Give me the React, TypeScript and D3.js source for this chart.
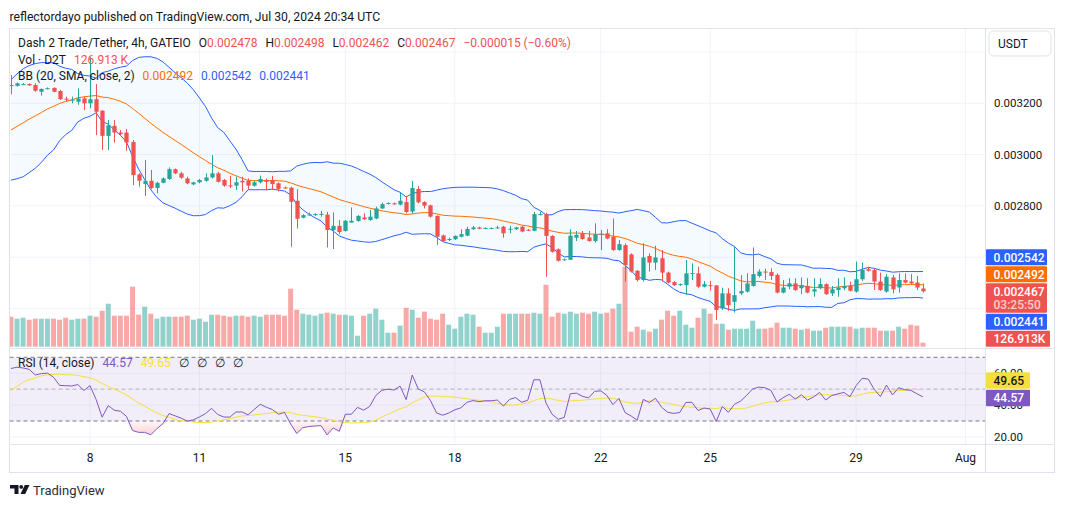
import * as d3 from 'd3';

// prices are USDT x 1e6 (3200 -> 0.003200), one 4h candle each, first candle Jul 5 20:00 UTC
const firstCandle = Date.UTC(2024, 6, 5, 20);

const opens = [
  3271, 3268, 3274, 3275, 3271, 3245, 3257, 3260, 3248, 3218,
  3212, 3206, 3219, 3200, 3216, 3171, 3073, 3112, 3086, 3086,
  3049, 2923, 2885, 2898, 2870, 2890, 2905, 2943, 2927, 2907,
  2884, 2892, 2898, 2911, 2927, 2901, 2880, 2879, 2898, 2898,
  2879, 2892, 2901, 2901, 2888, 2872, 2871, 2820, 2754, 2765,
  2765, 2766, 2766, 2706, 2722, 2702, 2735, 2741, 2755, 2745,
  2751, 2790, 2809, 2810, 2805, 2815, 2778, 2866, 2815, 2802,
  2761, 2685, 2668, 2670, 2680, 2684, 2709, 2716, 2713, 2713,
  2714, 2719, 2709, 2709, 2719, 2707, 2703, 2766, 2768, 2683,
  2631, 2589, 2590, 2676, 2693, 2677, 2663, 2689, 2693, 2680,
  2628, 2647, 2611, 2547, 2511, 2605, 2579, 2596, 2540, 2503,
  2491, 2491, 2536, 2537, 2485, 2491, 2490, 2400, 2459, 2426,
  2459, 2466, 2488, 2527, 2544, 2542, 2531, 2462, 2485, 2498,
  2479, 2488, 2466, 2479, 2495, 2459, 2472, 2479, 2488, 2466,
  2514, 2553, 2550, 2505, 2466, 2521, 2482, 2511, 2505, 2501, 2478,
];
const highs = [
  3310, 3281, 3279, 3278, 3278, 3258, 3262, 3262, 3252, 3226,
  3226, 3258, 3226, 3380, 3275, 3174, 3135, 3135, 3096, 3100,
  3057, 2927, 2979, 2940, 2894, 2911, 2950, 2946, 2933, 2914,
  2894, 2905, 2927, 2998, 2933, 2905, 2917, 2914, 2914, 2907,
  2898, 2918, 2907, 2917, 2892, 2875, 2875, 2865, 2768, 2774,
  2771, 2781, 2777, 2775, 2745, 2745, 2794, 2764, 2771, 2784,
  2797, 2813, 2814, 2813, 2852, 2839, 2897, 2878, 2818, 2805,
  2763, 2688, 2676, 2685, 2709, 2719, 2722, 2719, 2716, 2716,
  2722, 2722, 2722, 2719, 2722, 2710, 2777, 2777, 2774, 2686,
  2634, 2595, 2709, 2702, 2702, 2702, 2732, 2706, 2709, 2751,
  2667, 2654, 2615, 2550, 2654, 2615, 2645, 2628, 2544, 2507,
  2498, 2589, 2576, 2563, 2507, 2507, 2491, 2481, 2479, 2641,
  2530, 2537, 2638, 2553, 2555, 2557, 2537, 2511, 2518, 2518,
  2521, 2518, 2518, 2518, 2498, 2488, 2518, 2521, 2505, 2583,
  2579, 2563, 2557, 2540, 2534, 2531, 2537, 2537, 2534, 2527, 2498,
];
const lows = [
  3235, 3265, 3271, 3268, 3245, 3230, 3254, 3243, 3213, 3206,
  3200, 3194, 3174, 3180, 3076, 3018, 3018, 3047, 3076, 3015,
  2881, 2875, 2839, 2865, 2849, 2888, 2901, 2924, 2906, 2884,
  2881, 2888, 2894, 2907, 2891, 2875, 2870, 2862, 2856, 2865,
  2875, 2888, 2862, 2862, 2856, 2866, 2641, 2712, 2752, 2761,
  2761, 2758, 2638, 2632, 2690, 2700, 2735, 2738, 2745, 2742,
  2748, 2788, 2806, 2804, 2802, 2771, 2771, 2810, 2790, 2755,
  2648, 2660, 2663, 2667, 2677, 2682, 2707, 2709, 2711, 2711,
  2711, 2676, 2693, 2706, 2697, 2702, 2701, 2763, 2524, 2618,
  2583, 2586, 2589, 2663, 2668, 2660, 2657, 2628, 2670, 2625,
  2625, 2505, 2540, 2505, 2505, 2544, 2550, 2505, 2498, 2488,
  2488, 2453, 2511, 2479, 2482, 2469, 2355, 2394, 2391, 2384,
  2453, 2462, 2485, 2521, 2511, 2511, 2459, 2459, 2475, 2469,
  2456, 2459, 2446, 2475, 2453, 2449, 2446, 2472, 2466, 2462,
  2508, 2544, 2472, 2469, 2462, 2459, 2462, 2498, 2495, 2472, 2462,
];
const closes = [
  3269, 3278, 3275, 3270, 3249, 3256, 3259, 3245, 3216, 3215,
  3214, 3219, 3200, 3216, 3167, 3073, 3114, 3086, 3080, 3047,
  2920, 2898, 2898, 2870, 2890, 2907, 2943, 2927, 2910, 2888,
  2892, 2901, 2911, 2927, 2894, 2879, 2878, 2892, 2892, 2879,
  2892, 2905, 2894, 2885, 2866, 2870, 2816, 2750, 2764, 2767,
  2768, 2769, 2706, 2722, 2698, 2742, 2742, 2761, 2748, 2758,
  2790, 2807, 2811, 2808, 2820, 2776, 2870, 2814, 2801, 2758,
  2680, 2663, 2671, 2683, 2690, 2710, 2716, 2711, 2714, 2714,
  2716, 2693, 2711, 2716, 2700, 2705, 2768, 2768, 2683, 2621,
  2586, 2592, 2684, 2687, 2671, 2663, 2690, 2692, 2673, 2628,
  2651, 2569, 2544, 2511, 2599, 2579, 2599, 2540, 2501, 2491,
  2495, 2537, 2538, 2485, 2495, 2489, 2394, 2459, 2413, 2452,
  2468, 2498, 2534, 2544, 2541, 2527, 2462, 2482, 2498, 2472,
  2491, 2462, 2475, 2495, 2456, 2475, 2482, 2488, 2469, 2514,
  2550, 2547, 2505, 2472, 2524, 2475, 2511, 2501, 2498, 2482, 2467,
];
// volume in thousands of D2T
const volumes = [
  951, 888, 919, 856, 888, 888, 888, 888, 856, 919,
  856, 888, 888, 983, 951, 1141, 1363, 983, 983, 983,
  1902, 1014, 1268, 1046, 888, 951, 951, 951, 951, 983,
  856, 888, 793, 1014, 1014, 983, 951, 983, 983, 951,
  983, 951, 1014, 1014, 1014, 983, 1839, 1173, 1046, 1014,
  983, 1046, 1078, 1046, 1014, 1014, 983, 349, 983, 1046,
  1205, 856, 444, 444, 666, 1236, 1173, 919, 1110, 888,
  856, 1046, 697, 571, 951, 1046, 1014, 634, 444, 444,
  634, 1046, 1046, 1046, 1046, 1046, 1078, 1046, 1965, 951,
  1078, 1046, 1110, 1046, 1078, 1046, 1110, 1046, 1078, 1205,
  1363, 2536, 476, 634, 539, 476, 571, 856, 1141, 983,
  1141, 697, 602, 919, 1205, 1046, 729, 729, 539, 571,
  571, 571, 824, 571, 571, 602, 761, 602, 602, 571,
  539, 571, 507, 507, 602, 634, 634, 634, 634, 571,
  602, 602, 602, 507, 507, 507, 634, 571, 697, 666, 126.913,
];
// closes before the first visible candle (off screen), only used to warm up BB(20) and RSI(14)
const warmupCloses = [
  3260, 3245, 3250, 3225, 3205, 3210, 3185, 3160, 3165, 3130,
  3105, 3110, 3075, 3050, 3020, 2990, 3005, 2980, 3000, 2990,
  2985, 3035, 2995, 3055, 3095, 3055, 3125, 3160, 3120, 3195,
  3160, 3215, 3230, 3260,
];

// legend readings
const bbLegend = [2492, 2542, 2441]; // basis, upper, lower
const rsiLegend = [44.57, 49.65]; // rsi, rsi-based MA
const countdown = '03:25:50';

const timeTickDates = [
  Date.UTC(2024, 6, 8), Date.UTC(2024, 6, 11), Date.UTC(2024, 6, 15), Date.UTC(2024, 6, 18),
  Date.UTC(2024, 6, 22), Date.UTC(2024, 6, 25), Date.UTC(2024, 6, 29), Date.UTC(2024, 7, 1),
];
const timeTickLabels = ['8', '11', '15', '18', '22', '25', '29', 'Aug'];
const priceTicks = [2400, 2600, 2800, 3000, 3200, 3400];
const rsiTicks = [20, 40, 60];

const FONT = "Roboto, 'Noto Sans', sans-serif";
const TEXT = '#131722';
const UP = '#26a69a';
const DOWN = '#ef5350';
const BORDER = '#e0e3eb';
const GRID = '#f0f3fa';
const BLUE = '#2962ff';
const ORANGE = '#ff6d00';
const PURPLE = '#7e57c2';
const YELLOW = '#f5df3a';

const left = 9.5;
const axisX = 985.5;
const right = 1054.5;
const top = 28.5;
const priceBottom = 348.5;
const rsiBottom = 444.5;
const bottom = 472.5;
const unitButton = { x: 989, y: 31, w: 62, h: 25 };

const fmt = (v: number) => (v / 1e6).toFixed(6);

type Badge = { anchor: number; h: number; w: number; fill: string; color: string; lines: string[] };
type Placed = { b: Badge; top: number };

// the main series label stays at its value, the others are pushed away from it
function stackBadges(fixed: Badge, others: Badge[], paneBottom: number): Placed[] {
  const placed: Placed[] = [];
  const fixedTop = fixed.anchor - 8;
  placed.push({ b: fixed, top: fixedTop });
  const above = others.filter((b) => b.anchor < fixed.anchor).sort((a, b) => b.anchor - a.anchor);
  let lim = fixedTop - 1;
  for (const b of above) {
    const t = Math.min(b.anchor - 8, lim - b.h);
    placed.push({ b, top: t });
    lim = t - 1;
  }
  const below = others.filter((b) => b.anchor >= fixed.anchor).sort((a, b) => a.anchor - b.anchor);
  lim = fixedTop + fixed.h + 1;
  for (const b of below) {
    let t = Math.max(b.anchor - 8, lim);
    if (t + b.h > paneBottom) t = Math.max(lim, paneBottom - b.h);
    placed.push({ b, top: t });
    lim = t + b.h + 1;
  }
  return placed;
}

export default function App() {
  const n = closes.length;
  const n0 = warmupCloses.length;
  const allCloses = [...warmupCloses, ...closes];
  const times = closes.map((_, i) => new Date(firstCandle + i * 4 * 3600e3));

  const x = d3
    .scaleUtc()
    .domain([new Date(timeTickDates[0]), new Date(timeTickDates[7])])
    .range([90, 965.5]);
  const y = d3.scaleLinear().domain([2400, 3200]).range([308.5, 103.3]);
  const yVol = d3.scaleLinear().domain([0, 2536]).range([346.7, 266.7]);
  const yRsi = d3.scaleLinear().domain([30, 70]).range([421, 357.3]);

  // Bollinger Bands (20, SMA, 2)
  const bb = closes.map((_, i) => {
    const win = allCloses.slice(n0 + i - 19, n0 + i + 1);
    const m = d3.mean(win) as number;
    const sd = Math.sqrt(d3.mean(win, (v) => (v - m) ** 2) as number);
    return { t: times[i], mid: m, up: m + 2 * sd, lo: m - 2 * sd };
  });

  // RSI (14) with Wilder smoothing
  const rsiAll: number[] = [NaN];
  let ag = 0;
  let al = 0;
  for (let i = 1; i < allCloses.length; i++) {
    const ch = allCloses[i] - allCloses[i - 1];
    const g = Math.max(ch, 0);
    const l = Math.max(-ch, 0);
    if (i <= 14) {
      ag += g / 14;
      al += l / 14;
      if (i < 14) {
        rsiAll.push(NaN);
        continue;
      }
    } else {
      ag = (ag * 13 + g) / 14;
      al = (al * 13 + l) / 14;
    }
    rsiAll.push(al === 0 ? 100 : 100 - 100 / (1 + ag / al));
  }
  const rsi = closes.map((_, i) => ({
    t: times[i],
    v: rsiAll[n0 + i],
    ma: d3.mean(rsiAll.slice(n0 + i - 13, n0 + i + 1)) as number,
  }));

  const step = x(new Date(firstCandle + 4 * 3600e3)) - x(new Date(firstCandle));
  const bodyW = step * 0.7;
  const volW = step * 0.82;

  const bandArea = d3
    .area<(typeof bb)[number]>()
    .x((d) => x(d.t))
    .y0((d) => y(d.lo))
    .y1((d) => y(d.up));
  const bandLine = (key: 'mid' | 'up' | 'lo') =>
    d3
      .line<(typeof bb)[number]>()
      .x((d) => x(d.t))
      .y((d) => y(d[key]))(bb) as string;
  const rsiLine = d3
    .line<(typeof rsi)[number]>()
    .x((d) => x(d.t))
    .y((d) => yRsi(d.v))(rsi) as string;
  const maLine = d3
    .line<(typeof rsi)[number]>()
    .x((d) => x(d.t))
    .y((d) => yRsi(d.ma))(rsi) as string;
  const oversold = d3
    .area<(typeof rsi)[number]>()
    .x((d) => x(d.t))
    .y0(yRsi(30))
    .y1((d) => yRsi(Math.min(d.v, 30)))(rsi) as string;

  const last = n - 1;
  const change = closes[last] - closes[last - 1];
  const pct = (change / closes[last - 1]) * 100;
  const signed = (v: number, s: string) => (v < 0 ? '\u2212' : '+') + s;

  const priceBadges = stackBadges(
    { anchor: y(closes[last]), h: 29.5, w: 61, fill: DOWN, color: '#fff', lines: [fmt(closes[last]), countdown] },
    [
      { anchor: y(bbLegend[1]), h: 16, w: 61, fill: BLUE, color: '#fff', lines: [fmt(bbLegend[1])] },
      { anchor: y(bbLegend[0]), h: 16, w: 61, fill: ORANGE, color: '#fff', lines: [fmt(bbLegend[0])] },
      { anchor: y(bbLegend[2]), h: 16, w: 61, fill: BLUE, color: '#fff', lines: [fmt(bbLegend[2])] },
      { anchor: yVol(volumes[last]), h: 16, w: 64, fill: DOWN, color: '#fff', lines: [`${volumes[last].toFixed(3)}K`] },
    ],
    priceBottom - 1.8,
  );
  const rsiBadges = stackBadges(
    { anchor: yRsi(rsiLegend[0]), h: 16.5, w: 44, fill: PURPLE, color: '#fff', lines: [rsiLegend[0].toFixed(2)] },
    [{ anchor: yRsi(rsiLegend[1]), h: 16.5, w: 44, fill: YELLOW, color: TEXT, lines: [rsiLegend[1].toFixed(2)] }],
    rsiBottom,
  );

  // price scale labels hidden behind the badges or the unit button are not drawn
  const covered = [
    ...priceBadges.map((p) => [p.top, p.top + p.b.h]),
    [unitButton.y, unitButton.y + unitButton.h],
  ];
  const visiblePriceTicks = priceTicks.filter(
    (p) => y(p) > top + 6 && y(p) < priceBottom - 6 && !covered.some(([a, b]) => y(p) > a - 5 && y(p) < b + 5),
  );

  const renderBadge = ({ b, top: t }: Placed, i: number) => (
    <g key={i}>
      <rect x={axisX + 0.5} y={t} width={b.w} height={b.h} fill={b.fill} rx={1} />
      {b.lines.map((s, j) => (
        <text
          key={j}
          x={axisX + 8}
          y={t + 8 + j * 13.5}
          dy="0.36em"
          fontSize={12}
          fontWeight={500}
          fill={b.color}
          fillOpacity={j === 0 ? 1 : 0.72}
        >
          {s}
        </text>
      ))}
    </g>
  );

  return (
    <div>
      <style>{'body{margin:0}'}</style>
      <svg width={1065} height={507} style={{ display: 'block', fontFamily: FONT }}>
        <defs>
          <clipPath id="pricePane">
            <rect x={left} y={top} width={axisX - left} height={priceBottom - top} />
          </clipPath>
          <clipPath id="rsiPane">
            <rect x={left} y={priceBottom} width={axisX - left} height={rsiBottom - priceBottom} />
          </clipPath>
          <linearGradient id="osFill" gradientUnits="userSpaceOnUse" x1={0} y1={yRsi(30)} x2={0} y2={yRsi(18)}>
            <stop offset="0" stopColor="#f23645" stopOpacity={0.04} />
            <stop offset="1" stopColor="#f23645" stopOpacity={0.3} />
          </linearGradient>
        </defs>
        <rect width={1065} height={507} fill="#fff" />

        <text x={9.5} y={17} dy="0.35em" fontSize={12.2} fill={TEXT}>
          reflectordayo published on TradingView.com, Jul 30, 2024 20:34 UTC
        </text>

        {/* grid */}
        {timeTickDates.map((t, i) => (
          <line key={i} x1={x(new Date(t))} x2={x(new Date(t))} y1={top} y2={rsiBottom} stroke={GRID} />
        ))}
        {priceTicks.map((p) => (
          <line key={p} x1={left} x2={axisX} y1={y(p)} y2={y(p)} stroke={GRID} clipPath="url(#pricePane)" />
        ))}

        {/* price pane */}
        <g clipPath="url(#pricePane)">
          <path d={bandArea(bb) as string} fill="rgba(33,150,243,0.05)" />
          {volumes.map((v, i) => (
            <rect
              key={i}
              x={x(times[i]) - volW / 2}
              y={yVol(v)}
              width={volW}
              height={yVol(0) - yVol(v)}
              fill={closes[i] >= opens[i] ? 'rgba(38,166,154,0.5)' : 'rgba(239,83,80,0.5)'}
            />
          ))}
          <path d={bandLine('up')} fill="none" stroke={BLUE} strokeWidth={1} />
          <path d={bandLine('lo')} fill="none" stroke={BLUE} strokeWidth={1} />
          <path d={bandLine('mid')} fill="none" stroke={ORANGE} strokeWidth={1} />
          {closes.map((c, i) => {
            const o = opens[i];
            const col = c >= o ? UP : DOWN;
            const cx = Math.round(x(times[i])) + 0.5;
            const bt = y(Math.max(o, c));
            const bh = Math.max(1, y(Math.min(o, c)) - bt);
            return (
              <g key={i}>
                <line x1={cx} x2={cx} y1={y(highs[i])} y2={y(lows[i])} stroke={col} />
                <rect x={cx - bodyW / 2} y={bt} width={bodyW} height={bh} fill={col} />
              </g>
            );
          })}
        </g>

        {/* legend */}
        <text x={18} y={42.7} dy="0.35em" fontSize={12} fill={TEXT}>
          <tspan>Dash 2 Trade/Tether, 4h, GATEIO</tspan>
          <tspan dx={8}>O</tspan>
          <tspan fill={DOWN}>{fmt(opens[last])}</tspan>
          <tspan dx={8}>H</tspan>
          <tspan fill={DOWN}>{fmt(highs[last])}</tspan>
          <tspan dx={8}>L</tspan>
          <tspan fill={DOWN}>{fmt(lows[last])}</tspan>
          <tspan dx={8}>C</tspan>
          <tspan fill={DOWN}>{fmt(closes[last])}</tspan>
          <tspan dx={8} fill={DOWN}>
            {signed(change, fmt(Math.abs(change)))} ({signed(pct, Math.abs(pct).toFixed(2))}%)
          </tspan>
        </text>
        <text x={18} y={59.3} dy="0.35em" fontSize={12} fill={TEXT}>
          <tspan>Vol · D2T</tspan>
          <tspan dx={8} fill={DOWN}>
            {volumes[last].toFixed(3)} K
          </tspan>
        </text>
        <text x={18} y={75.5} dy="0.35em" fontSize={12} fill={TEXT}>
          <tspan>BB (20, SMA, close, 2)</tspan>
          <tspan dx={8} fill={ORANGE}>
            {fmt(bbLegend[0])}
          </tspan>
          <tspan dx={8} fill={BLUE}>
            {fmt(bbLegend[1])}
          </tspan>
          <tspan dx={8} fill={BLUE}>
            {fmt(bbLegend[2])}
          </tspan>
        </text>

        {/* RSI pane */}
        <g clipPath="url(#rsiPane)">
          {rsiTicks.map((r) => (
            <line key={r} x1={left} x2={axisX} y1={yRsi(r)} y2={yRsi(r)} stroke={GRID} />
          ))}
          <rect x={left} y={yRsi(70)} width={axisX - left} height={yRsi(30) - yRsi(70)} fill="rgba(126,87,194,0.1)" />
          <line x1={left} x2={axisX} y1={yRsi(70)} y2={yRsi(70)} stroke="#787b86" strokeDasharray="4 3" />
          <line x1={left} x2={axisX} y1={yRsi(50)} y2={yRsi(50)} stroke="rgba(120,123,134,0.55)" strokeDasharray="4 3" />
          <line x1={left} x2={axisX} y1={yRsi(30)} y2={yRsi(30)} stroke="#787b86" strokeDasharray="4 3" />
          <path d={oversold} fill="url(#osFill)" />
          <path d={maLine} fill="none" stroke={YELLOW} strokeWidth={1} />
          <path d={rsiLine} fill="none" stroke={PURPLE} strokeWidth={1} />
        </g>
        <text x={18} y={363} dy="0.35em" fontSize={12} fill={TEXT}>
          <tspan>RSI (14, close)</tspan>
          <tspan dx={8} fill={PURPLE}>
            {rsiLegend[0].toFixed(2)}
          </tspan>
          <tspan dx={8} fill={YELLOW}>
            {rsiLegend[1].toFixed(2)}
          </tspan>
          <tspan dx={8}>∅</tspan>
          <tspan dx={8}>∅</tspan>
          <tspan dx={8}>∅</tspan>
          <tspan dx={8}>∅</tspan>
        </text>

        {/* frame */}
        <rect x={left} y={top} width={right - left} height={bottom - top} fill="none" stroke={BORDER} />
        <line x1={left} x2={right} y1={priceBottom} y2={priceBottom} stroke={BORDER} />
        <line x1={left} x2={right} y1={rsiBottom} y2={rsiBottom} stroke={BORDER} />
        <line x1={axisX} x2={axisX} y1={top} y2={bottom} stroke={BORDER} />

        {/* axes */}
        {visiblePriceTicks.map((p) => (
          <text key={p} x={994} y={y(p)} dy="0.36em" fontSize={11.5} fill={TEXT}>
            {fmt(p)}
          </text>
        ))}
        {rsiTicks.map((r) => (
          <text key={r} x={994} y={yRsi(r)} dy="0.36em" fontSize={11.5} fill={TEXT}>
            {r.toFixed(2)}
          </text>
        ))}
        {timeTickDates.map((t, i) => (
          <text key={i} x={x(new Date(t))} y={458} dy="0.36em" fontSize={12} textAnchor="middle" fill={TEXT}>
            {timeTickLabels[i]}
          </text>
        ))}

        <rect
          x={unitButton.x}
          y={unitButton.y}
          width={unitButton.w}
          height={unitButton.h}
          rx={5}
          fill="#fff"
          stroke={BORDER}
        />
        <text x={998} y={43.5} dy="0.36em" fontSize={12} fill={TEXT}>
          USDT
        </text>

        {priceBadges.map(renderBadge)}
        {rsiBadges.map(renderBadge)}

        {/* TradingView mark */}
        <g fill="#131722">
          <path d="M10 485h8.5v9h-4v-5.5H10z" />
          <circle cx={21.2} cy={486.9} r={1.9} />
          <path d="M24.8 485h4.7l-4.3 9h-4.7z" />
        </g>
        <text x={33} y={490} dy="0.36em" fontSize={13} fill="#2a2e39">
          TradingView
        </text>
      </svg>
    </div>
  );
}
